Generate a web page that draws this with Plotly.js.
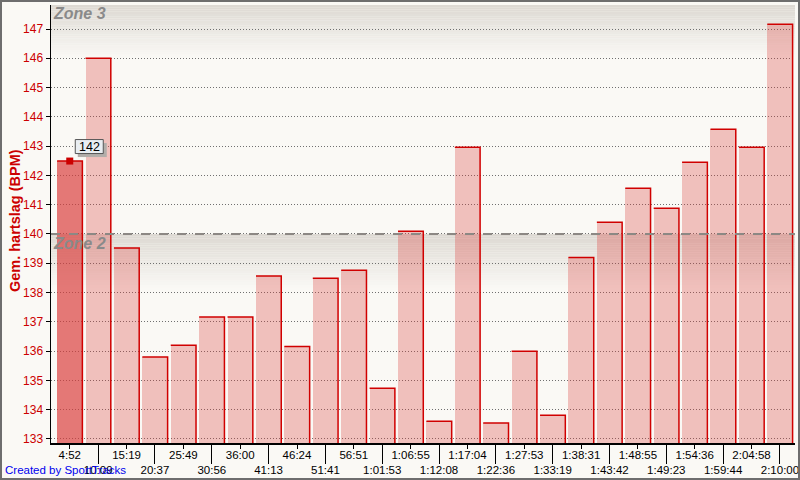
<!DOCTYPE html>
<html>
<head>
<meta charset="utf-8">
<script src="https://cdn.plot.ly/plotly-3.0.1.min.js"></script>
<style>
html,body{margin:0;padding:0;background:#faf9f5;}
#wrap{position:relative;width:800px;height:480px;background:#faf9f5;}
#chart{width:800px;height:480px;}
#frame{position:absolute;left:0;top:0;width:800px;height:480px;box-sizing:border-box;border:2px solid #6e6e6e;pointer-events:none;}
</style>
</head>
<body>
<div id="wrap"><div id="chart"></div><div id="frame"></div></div>
<script>
const lapLabels = ['4:52','10:09','15:19','20:37','25:49','30:56','36:00','41:13','46:24','51:41','56:51','1:01:53','1:06:55','1:12:08','1:17:04','1:22:36','1:27:53','1:33:19','1:38:31','1:43:42','1:48:55','1:49:23','1:54:36','1:59:44','2:04:58','2:10:00'];
const avgHeartRate = [142.49, 146.0, 139.52, 135.8, 136.2, 137.16, 137.16, 138.56, 136.16, 138.49, 138.76, 134.73, 140.09, 133.6, 142.96, 133.54, 135.99, 133.81, 139.2, 140.4, 141.56, 140.88, 142.45, 143.58, 142.96, 147.16];
const selectedIndex = 0;
const selectedLabel = '142';
const zoneBoundary = 140;
const zoneNames = ['Zone 3', 'Zone 2'];
const yAxisTitle = 'Gem. hartslag (BPM)';
const footerText = 'Created by SportTracks';

const yRange = [132.86, 147.82];
const xRange = [-0.66, 25.53];
const barWidth = 0.89;
const idx = lapLabels.map((_, i) => i);

// outline (top + right edge) computed from data
const ox = [], oy = [];
avgHeartRate.forEach((v, i) => {
  ox.push(i - barWidth/2, i + barWidth/2, i + barWidth/2, null);
  oy.push(v, v, yRange[0] - 1, null);
});

const traces = [
  {
    type: 'bar', x: idx, y: avgHeartRate, width: barWidth,
    marker: {
      color: avgHeartRate.map((_, i) => i === selectedIndex ? 'rgba(217,59,57,0.68)' : 'rgba(217,59,57,0.3)'),
      line: {width: 0}
    },
    hoverinfo: 'skip', showlegend: false
  },
  {
    type: 'scatter', mode: 'lines', x: ox, y: oy,
    line: {color: '#d00000', width: 1.5}, hoverinfo: 'skip', showlegend: false
  },
  {
    type: 'scatter', mode: 'markers', x: [selectedIndex], y: [avgHeartRate[selectedIndex]],
    marker: {symbol: 'square', size: 7, color: '#cc0000'}, hoverinfo: 'skip', showlegend: false
  },
  {
    type: 'scatter', mode: 'markers', x: [0], y: [140], xaxis: 'x2',
    marker: {opacity: 0}, hoverinfo: 'skip', showlegend: false
  }
];

// gradient strips for the zones
const shapes = [];
function gradient(yTop, height, n) {
  const c0 = [221, 217, 211], c1 = [250, 249, 245];
  for (let k = 0; k < n; k++) {
    const t = k / (n - 1);
    const c = c0.map((a, j) => Math.round(a + (c1[j] - a) * t));
    shapes.push({
      type: 'rect', xref: 'paper', yref: 'y', layer: 'below',
      x0: 0, x1: 1, y0: yTop - height * k / n, y1: yTop - height * (k + 1) / n,
      fillcolor: 'rgb(' + c.join(',') + ')', line: {width: 0}
    });
  }
}
gradient(yRange[1], 1.85, 24);
gradient(zoneBoundary, 1.9, 24);
shapes.push({
  type: 'line', xref: 'paper', yref: 'y', layer: 'above',
  x0: 0, x1: 1, y0: zoneBoundary, y1: zoneBoundary,
  line: {color: '#8c8884', width: 2, dash: 'dash'}
});
// tooltip box + shadow anchored to the selected bar
const sx = selectedIndex, sy = avgHeartRate[selectedIndex];
shapes.push({
  type: 'rect', xref: 'x', yref: 'y', xsizemode: 'pixel', ysizemode: 'pixel',
  xanchor: sx, yanchor: sy, x0: 8, x1: 37, y0: 4, y1: 18, layer: 'above',
  fillcolor: '#b2aeaa', line: {width: 0}
});
shapes.push({
  type: 'rect', xref: 'x', yref: 'y', xsizemode: 'pixel', ysizemode: 'pixel',
  xanchor: sx, yanchor: sy, x0: 5.5, x1: 33.5, y0: 7.5, y1: 21.5, layer: 'above',
  fillcolor: '#e9eef2', line: {width: 1, color: '#555'}
});

const layout = {
  width: 800, height: 480,
  margin: {l: 51, r: 5, t: 5, b: 37},
  paper_bgcolor: '#faf9f5', plot_bgcolor: '#faf9f5',
  font: {family: 'Liberation Sans, Arial, sans-serif', size: 11, color: '#000'},
  bargap: 0,
  xaxis: {
    range: xRange, tickmode: 'array', tickvals: idx,
    ticktext: lapLabels.map((t, i) => i % 2 === 0 ? t : '<br>' + t),
    tickangle: 0, ticklabeloverflow: 'allow', ticklabelstandoff: -3,
    ticks: 'outside', ticklen: 4, tickcolor: '#000', tickwidth: 1,
    showgrid: false, zeroline: false, showline: true, linecolor: '#000', linewidth: 1.5,
    tickfont: {size: 11.5, color: '#000'}, fixedrange: true
  },
  xaxis2: {
    overlaying: 'x', anchor: 'y', side: 'bottom', range: xRange,
    tickmode: 'array', tickvals: idx.filter(i => i % 2 === 1), ticks: 'outside', ticklen: 20,
    tickcolor: '#000', tickwidth: 1, showticklabels: false,
    showgrid: false, zeroline: false, showline: false
  },
  yaxis: {
    range: yRange, tickmode: 'array',
    tickvals: [133,134,135,136,137,138,139,140,141,142,143,144,145,146,147],
    ticks: 'outside', ticklen: 4, tickcolor: '#000',
    showgrid: true, gridcolor: '#707070', griddash: '1px,2px', gridwidth: 1,
    zeroline: false, showline: true, linecolor: '#000', linewidth: 1.5,
    tickfont: {size: 12, color: '#cc0000'}, fixedrange: true
  },
  shapes: shapes,
  annotations: [
    {xref: 'paper', yref: 'paper', x: -0.0484, y: 0.509, text: '<b>' + yAxisTitle + '</b>',
     textangle: -90, showarrow: false, font: {size: 14.5, color: '#cc0000'}, xanchor: 'center', yanchor: 'middle'},
    {xref: 'paper', yref: 'y', x: 0.0, y: yRange[1], yanchor: 'top', xanchor: 'left', yshift: 2,
     text: '<b><i>' + zoneNames[0] + '</i></b>', showarrow: false, font: {size: 16, color: '#8a8a8a'}},
    {xref: 'paper', yref: 'y', x: 0.0, y: zoneBoundary, yanchor: 'top', xanchor: 'left', yshift: 1,
     text: '<b><i>' + zoneNames[1] + '</i></b>', showarrow: false, font: {size: 16, color: '#8a8a8a'}},
    {xref: 'paper', yref: 'paper', x: -0.0645, y: -0.062, xanchor: 'left', yanchor: 'middle',
     text: footerText, showarrow: false, font: {size: 11.5, color: '#0000ee'}},
    {xref: 'x', yref: 'y', x: sx, y: sy, xshift: 19.5, yshift: 14.5,
     text: selectedLabel, showarrow: false, font: {size: 12.5, color: '#000'}}
  ]
};

Plotly.newPlot('chart', traces, layout, {displayModeBar: false, staticPlot: true});
</script>
</body>
</html>
